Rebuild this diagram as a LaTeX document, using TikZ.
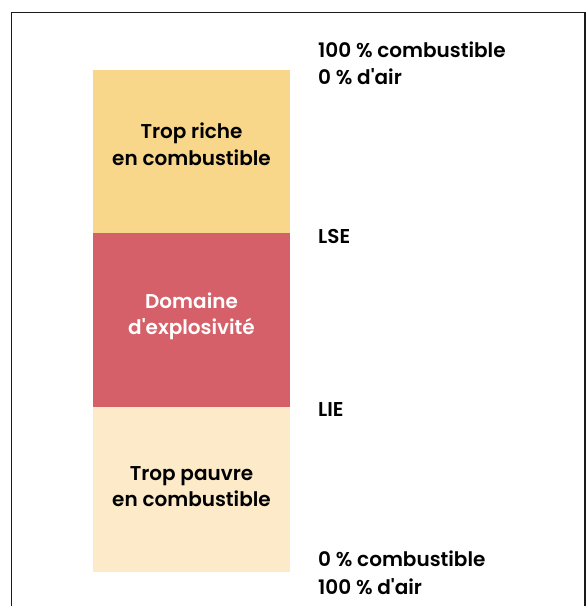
\documentclass[tikz,border=0pt]{standalone}
\usepackage{fontspec}
\setmainfont{Poppins}[UprightFont=* SemiBold, Ligatures=TeXOff]
\definecolor{rich}{RGB}{248,214,138}
\definecolor{expl}{RGB}{214,96,105}
\definecolor{poor}{RGB}{252,234,200}
\definecolor{frame}{RGB}{26,26,26}
\begin{document}
\begin{tikzpicture}[x=1pt,y=-1pt,
  lbl/.style={anchor=base west,inner sep=0pt,font=\fontsize{20}{24}\selectfont},
  ctr/.style={anchor=base,inner sep=0pt,font=\fontsize{20}{24}\selectfont},
  zone/.style={draw=none,inner sep=0pt}]
\useasboundingbox (0,0) rectangle (586,606);
\draw[frame,line width=1.2pt] (11.5,606) -- (11.5,12.5) -- (585,12.5) -- (585,606);
\fill[rich] (93,70) rectangle (290,233);
\fill[expl] (93,233) rectangle (290,407);
\fill[poor] (93,407) rectangle (290,572);
\node[ctr] (r1) at (191.5,138.5) {Trop riche};
\node[ctr] (r2) at (191.5,165.5) {en combustible};
\node[ctr,text=white] (e1) at (191.5,308.5) {Domaine};
\node[ctr,text=white] (e2) at (191.5,334.5) {d'explosivité};
\node[ctr] (p1) at (191.5,480) {Trop pauvre};
\node[ctr] (p2) at (191.5,506.5) {en combustible};
\node[lbl] (t1) at (318,57) {100 \% combustible};
\node[lbl] (t2) at (318,84) {0 \% d'air};
\node[lbl] (lse) at (318,243.3) {LSE};
\node[lbl] (lie) at (318,416.7) {LIE};
\node[lbl] (b1) at (318,566) {0 \% combustible};
\node[lbl] (b2) at (318,594) {100 \% d'air};
\end{tikzpicture}
\end{document}
